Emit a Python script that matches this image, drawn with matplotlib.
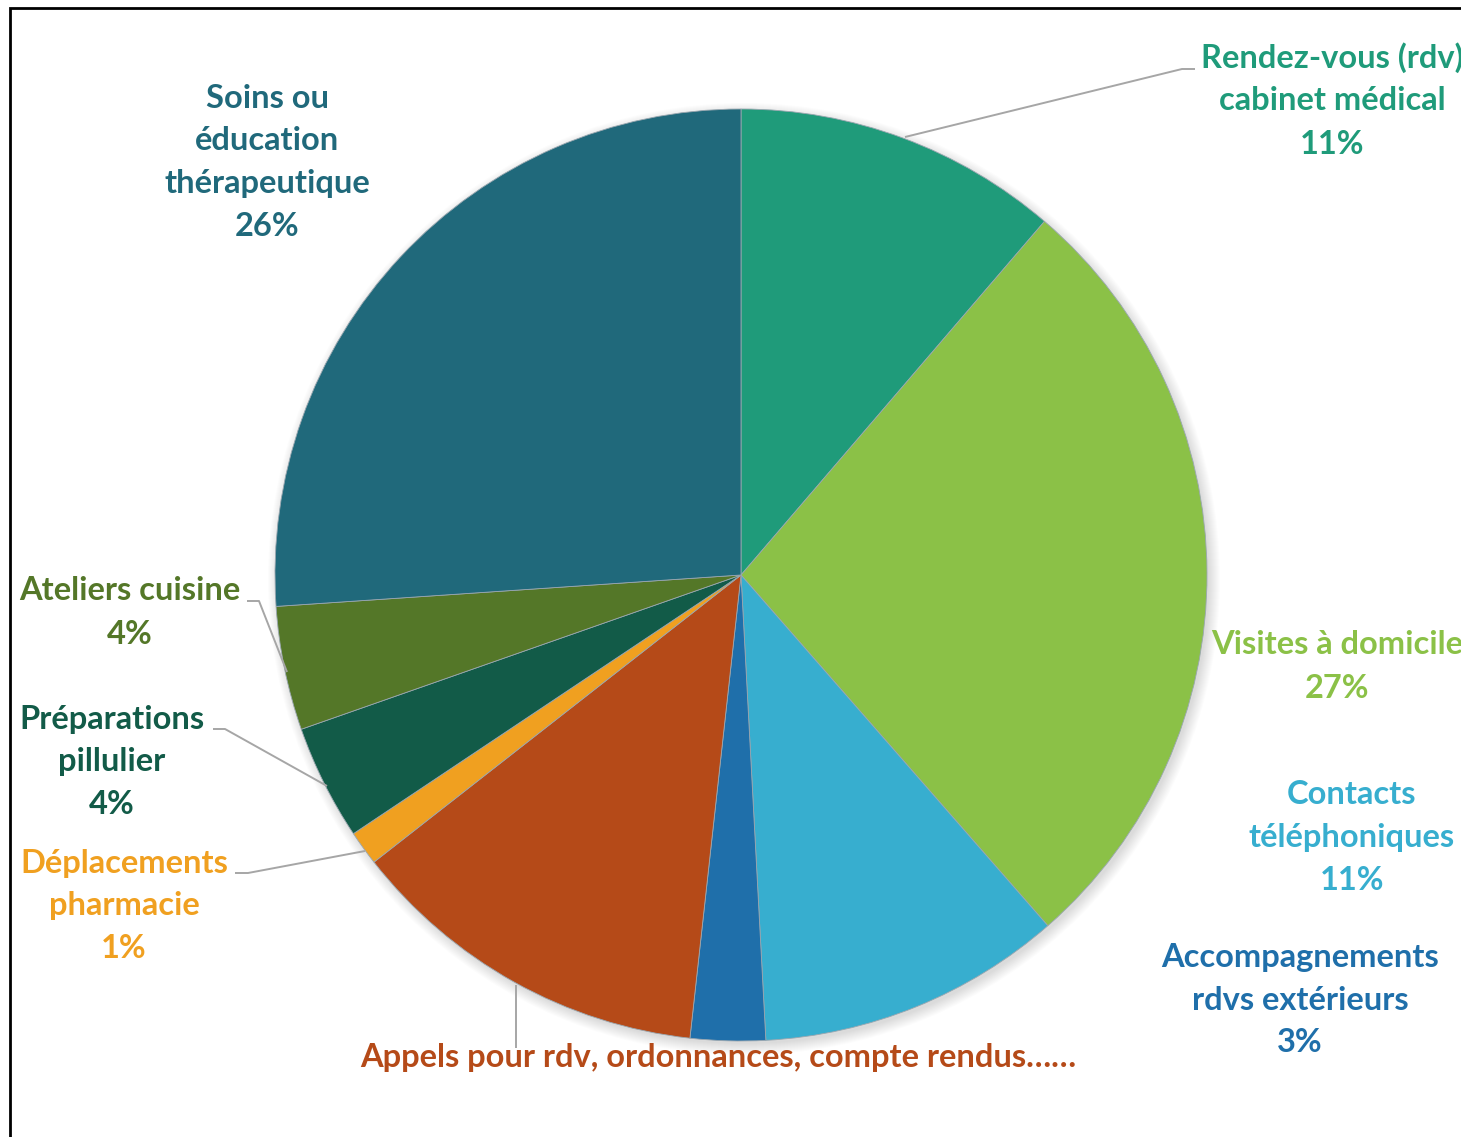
import matplotlib
matplotlib.use("Agg")
import matplotlib.pyplot as plt
from matplotlib.patches import Circle, Rectangle

plt.rcParams['font.family'] = ['Lato', 'DejaVu Sans']

# Activity categories, clockwise from 12 o'clock
categories = [
    "Rendez-vous (rdv)\ncabinet médical",
    "Visites à domicile",
    "Contacts\ntéléphoniques",
    "Accompagnements\nrdvs extérieurs",
    "Appels pour rdv, ordonnances, compte rendus……",
    "Déplacements\npharmacie",
    "Préparations\npillulier",
    "Ateliers cuisine",
    "Soins ou\néducation\nthérapeutique",
]
shares = [11.3, 27.3, 10.6, 2.6, 12.7, 1.2, 4.0, 4.3, 26.1]
show_pct = [True, True, True, True, False, True, True, True, True]
colors = ["#1F9B7A", "#8BC147", "#37AECF", "#1F6FAA", "#B54A18",
          "#F0A020", "#125B48", "#547728", "#20697B"]

W, H = 1461, 1137
fig = plt.figure(figsize=(W / 100, H / 100), dpi=100)
ax = fig.add_axes([0, 0, 1, 1])
ax.set_xlim(0, W)
ax.set_ylim(0, H)
ax.set_aspect('equal')
ax.axis('off')

def Y(py):
    return H - py

cx, cy, r = 741, Y(575), 466

# soft drop shadow beneath the pie
for i in range(12):
    ax.add_patch(Circle((cx + 3, cy - 4), r + 10 - i, color='black',
                        alpha=0.012, lw=0, zorder=1))

wedges, _ = ax.pie(shares, colors=colors, startangle=90, counterclock=False,
                   center=(cx, cy), radius=r,
                   wedgeprops=dict(linewidth=0.6, edgecolor='#9aa7b0'))
for w in wedges:
    w.set_zorder(2)
ax.set_xlim(0, W)
ax.set_ylim(0, H)

total = sum(shares)
# label anchor (centre x, first line y) in figure pixels
label_pos = [
    (1332, 58), (1337, 645), (1352, 794), (1300, 957), (718, 1057),
    (124, 863), (112, 719), (130, 591), (267, 98),
]
line_h = 43
for cat, val, col, pct, (lx, ly) in zip(categories, shares, colors, show_pct, label_pos):
    lines = cat.split("\n")
    if pct:
        lines.append(f"{val / total * 100:.0f}%")
    for k, t in enumerate(lines):
        ax.text(lx, Y(ly + k * line_h), t, color=col, fontsize=23.5,
                fontweight='bold', ha='center', va='center', zorder=5)

# leader lines
leaders = [
    [(905, 137), (1182, 69), (1195, 69)],
    [(287, 672), (259, 601), (247, 601)],
    [(327, 786), (225, 729), (213, 729)],
    [(365, 851), (248, 873), (235, 873)],
    [(516, 985), (516, 1048)],
]
for pts in leaders:
    ax.plot([p[0] for p in pts], [Y(p[1]) for p in pts], color='#A6A6A6',
            lw=1.4, zorder=4, solid_capstyle='butt')

# outer chart frame
ax.add_patch(Rectangle((10, Y(1200)), 1600, 1200 - 8, fill=False,
                       edgecolor='black', lw=2, zorder=6, clip_on=False))

fig.savefig("out.png", dpi=100)
